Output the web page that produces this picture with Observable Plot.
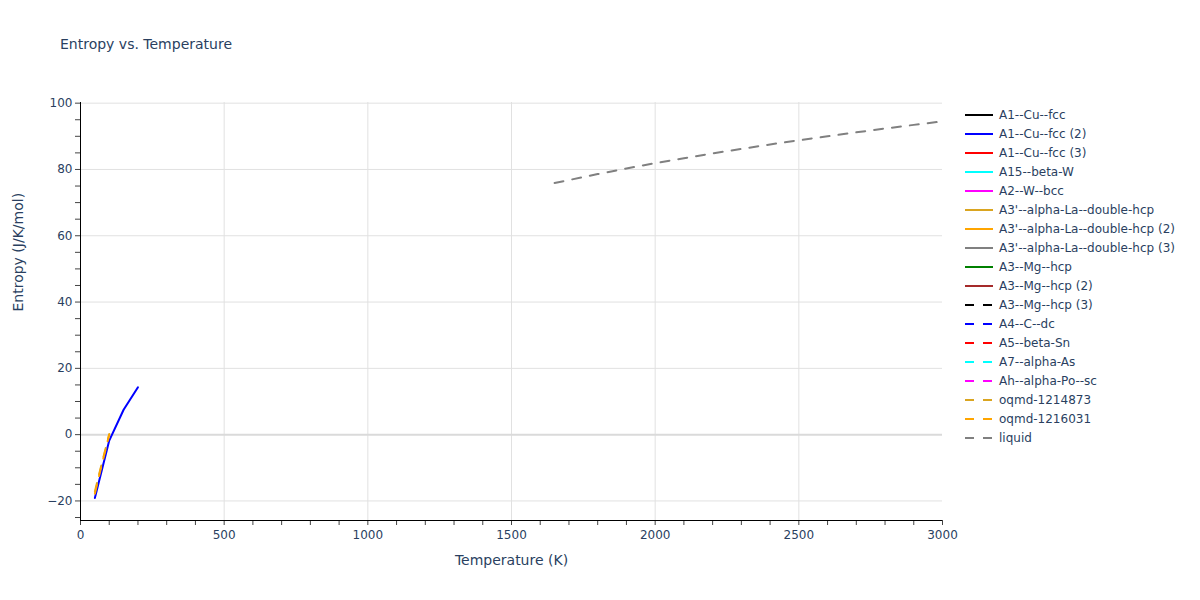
<!DOCTYPE html>
<html><head><meta charset="utf-8">
<script src="https://cdn.jsdelivr.net/npm/d3@7"></script>
<script src="https://cdn.jsdelivr.net/npm/@observablehq/plot@0.6"></script>
<style>
body{margin:0;background:#fff;font-family:"DejaVu Sans",sans-serif;}
#wrap{position:relative;width:1200px;height:600px;overflow:hidden;}
#chart{position:absolute;left:0;top:0;}
#title{position:absolute;left:60px;top:36px;font-size:14px;color:#2a3f5f;}
#legend{position:absolute;left:964px;top:105px;font-size:12px;color:#2a3f5f;}
.item{height:19px;display:flex;align-items:center;white-space:nowrap;}
.item svg{margin-right:5px;}
</style></head><body>
<div id="wrap"><div id="chart"></div><div id="title">Entropy vs. Temperature</div><div id="legend"></div></div>
<script>
// Series names, colours and dash style (legend order)
const seriesNames = ["A1--Cu--fcc","A1--Cu--fcc (2)","A1--Cu--fcc (3)","A15--beta-W","A2--W--bcc",
  "A3'--alpha-La--double-hcp","A3'--alpha-La--double-hcp (2)","A3'--alpha-La--double-hcp (3)",
  "A3--Mg--hcp","A3--Mg--hcp (2)","A3--Mg--hcp (3)","A4--C--dc","A5--beta-Sn","A7--alpha-As",
  "Ah--alpha-Po--sc","oqmd-1214873","oqmd-1216031","liquid"];
const seriesColors = ["black","blue","red","cyan","magenta","goldenrod","orange","gray","green","brown",
  "black","blue","red","cyan","magenta","goldenrod","orange","gray"];
const seriesDashed = [false,false,false,false,false,false,false,false,false,false,
  true,true,true,true,true,true,true,true];

// Data (temperature K, entropy J/K/mol)
const cu2T = [50, 100, 150, 200];
const cu2S = [-19.1, -1.8, 7.5, 14.3];
const oqmd1T = [50, 60, 70, 80, 90, 100];
const oqmd1S = [-17.2, -13.6, -10.1, -6.7, -3.3, 0.2];
const oqmd2T = [50, 60, 70, 80, 90, 100];
const oqmd2S = [-17.8, -14.1, -10.5, -7.0, -3.5, 0.0];
const liquidT = [1650, 1700, 1800, 1900, 2000, 2100, 2200, 2300, 2400, 2500, 2600, 2700, 2800, 2900, 3000];
const liquidS = [75.9, 76.8, 78.6, 80.3, 81.9, 83.4, 84.85, 86.2, 87.55, 88.8, 90.0, 91.2, 92.35, 93.45, 94.5];

const xTicks = [0, 500, 1000, 1500, 2000, 2500, 3000];
const yTicks = [-20, 0, 20, 40, 60, 80, 100];

const pts = (T, S) => T.map((t, i) => ({t, s: S[i]}));
const seriesData = {
  "A1--Cu--fcc (2)": pts(cu2T, cu2S),
  "oqmd-1214873": pts(oqmd1T, oqmd1S),
  "oqmd-1216031": pts(oqmd2T, oqmd2S),
  "liquid": pts(liquidT, liquidS)
};

const yMin = -25.9, yMax = 100.2;
const lineMarks = [];
seriesNames.forEach((n, i) => {
  if (!seriesData[n]) return;
  lineMarks.push(Plot.line(seriesData[n], {x: "t", y: "s", stroke: seriesColors[i], strokeWidth: 2,
    strokeDasharray: seriesDashed[i] ? "9,9" : null}));
});

const chart = Plot.plot({
  width: 1200, height: 600,
  marginLeft: 80, marginRight: 258, marginTop: 102, marginBottom: 80,
  x: {domain: [0, 3000]},
  y: {domain: [yMin, yMax]},
  style: {fontFamily: "'DejaVu Sans', sans-serif", fontSize: "12px", color: "#2a3f5f", background: "white"},
  marks: [
    Plot.gridX(xTicks.filter(d => d > 0 && d < 3000), {stroke: "#e1e1e1", strokeOpacity: 1, strokeWidth: 1}),
    Plot.gridY(yTicks.filter(d => d !== 0), {stroke: "#e1e1e1", strokeOpacity: 1, strokeWidth: 1}),
    Plot.ruleY([0], {stroke: "#dadada", strokeWidth: 2}),
    Plot.axisX({ticks: d3.range(0, 3001, 100), tickFormat: d => (d % 500 === 0 ? String(d) : ""), tickSize: 5, tickPadding: 5, label: null, stroke: "#444"}),
    Plot.axisY({ticks: d3.range(-25, 101, 5), tickFormat: d => (d % 20 === 0 ? (d < 0 ? "\u2212" + (-d) : String(d)) : ""), tickSize: 5, tickPadding: 3, label: null, stroke: "#444"}),
    ...lineMarks,
    Plot.ruleX([0], {stroke: "black", strokeWidth: 1}),
    Plot.ruleY([yMin], {stroke: "black", strokeWidth: 1}),
    Plot.text(["Temperature (K)"], {frameAnchor: "bottom", dy: 44, fontSize: 14, fill: "#2a3f5f"}),
    Plot.text(["Entropy (J/K/mol)"], {frameAnchor: "left", dx: -62, rotate: -90, fontSize: 14, fill: "#2a3f5f"})
  ]
});
document.getElementById("chart").appendChild(chart);

const legend = document.getElementById("legend");
seriesNames.forEach((n, i) => {
  const div = document.createElement("div");
  div.className = "item";
  const dash = seriesDashed[i] ? ' stroke-dasharray="9,9"' : "";
  div.innerHTML = `<svg width="30" height="10"><line x1="1" y1="5" x2="29" y2="5" stroke="${seriesColors[i]}" stroke-width="2"${dash}/></svg><span>${n}</span>`;
  legend.appendChild(div);
});
</script>
</body></html>
